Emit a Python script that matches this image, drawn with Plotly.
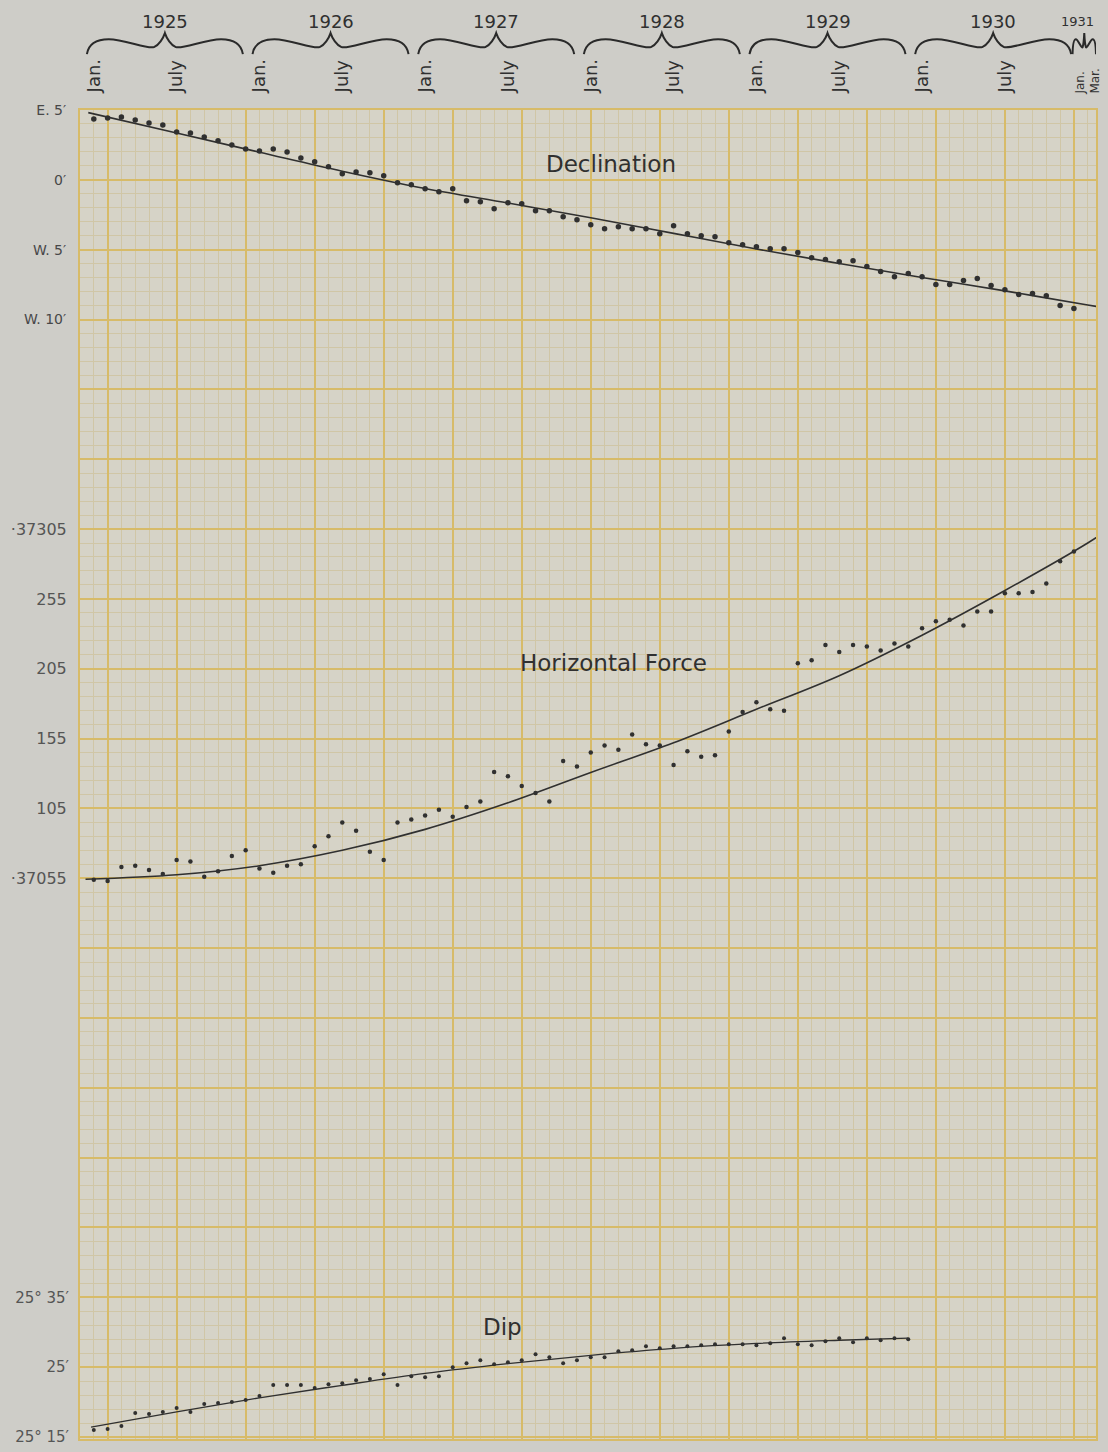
import plotly.graph_objects as go

# ---- data (month index: 0 = January 1925) ----
decl_months = list(range(72))
# declination in minutes of arc, east positive
declination = [4.36, 4.43, 4.50, 4.29, 4.07, 3.93, 3.43, 3.36, 3.07, 2.79, 2.50, 2.21,
               2.07, 2.21, 2.00, 1.57, 1.29, 0.93, 0.43, 0.57, 0.50, 0.29, -0.21, -0.36,
               -0.64, -0.86, -0.64, -1.50, -1.57, -2.07, -1.64, -1.71, -2.21, -2.21, -2.64, -2.86,
               -3.21, -3.50, -3.36, -3.50, -3.50, -3.86, -3.29, -3.86, -4.00, -4.07, -4.50, -4.64,
               -4.79, -4.93, -4.93, -5.21, -5.57, -5.71, -5.86, -5.79, -6.21, -6.57, -6.93, -6.71,
               -6.93, -7.50, -7.50, -7.21, -7.07, -7.57, -7.86, -8.21, -8.14, -8.29, -9.00, -9.21]
decl_curve_months = [-0.4, 6, 12, 18, 24, 30, 36, 42, 48, 54, 60, 66, 72, 74]
decl_curve = [4.81, 3.35, 1.98, 0.62, -0.62, -1.66, -2.71, -3.83, -4.95, -5.99, -6.99, -7.95, -8.96, -9.29]

hf_months = list(range(72))
# horizontal intensity in gammas
horizontal_force = [37054, 37053, 37063, 37064, 37061, 37058, 37068, 37067, 37056, 37060, 37071, 37075,
                    37062, 37059, 37064, 37065, 37078, 37085, 37095, 37089, 37074, 37068, 37095, 37097,
                    37100, 37104, 37099, 37106, 37110, 37131, 37128, 37121, 37116, 37110, 37139, 37135,
                    37145, 37150, 37147, 37158, 37151, 37150, 37136, 37146, 37142, 37143, 37160, 37174,
                    37181, 37176, 37175, 37209, 37211, 37222, 37217, 37222, 37221, 37218, 37223, 37221,
                    37234, 37239, 37240, 37236, 37246, 37246, 37259, 37259, 37260, 37266, 37282, 37289]
hf_curve_months = [-0.6, 6, 12, 18, 24, 30, 36, 42, 48, 54, 60, 66, 72, 74]
hf_curve = [37054.3, 37057.5, 37064, 37075, 37090, 37109, 37130.7, 37152, 37176, 37200, 37229, 37261, 37295, 37308]

dip_months = list(range(60))
# dip: minutes above 25 degrees
dip_minutes = [16.00, 16.14, 16.57, 18.43, 18.29, 18.57, 19.14, 18.57, 19.71, 19.86, 20.00, 20.29,
               20.86, 22.43, 22.43, 22.43, 22.00, 22.57, 22.71, 23.14, 23.29, 24.00, 22.43, 23.71,
               23.57, 23.71, 25.00, 25.57, 26.00, 25.43, 25.71, 26.00, 26.86, 26.43, 25.57, 26.00,
               26.43, 26.43, 27.29, 27.43, 28.00, 27.71, 28.00, 28.00, 28.14, 28.29, 28.29, 28.29,
               28.14, 28.43, 29.14, 28.29, 28.14, 28.71, 29.14, 28.57, 29.14, 28.86, 29.14, 29.00]
dip_curve_months = [-0.2, 6, 12, 18, 24, 30, 36, 42, 48, 54, 59]
dip_curve = [16.4, 18.6, 20.6, 22.4, 24.1, 25.5, 26.7, 27.7, 28.4, 28.85, 29.15]

# ---- axis labels ----
years = [1925, 1926, 1927, 1928, 1929, 1930, 1931]
months_in_year = [12, 12, 12, 12, 12, 12, 3]
month_tickvals = [0, 6, 12, 18, 24, 30, 36, 42, 48, 54, 60, 66]
month_ticktext = ["Jan.", "July"] * 6
last_tickvals = [72]
last_ticktext = ["Jan.<br>Mar."]

decl_tickvals = [5, 0, -5, -10]
decl_ticktext = ["E. 5′", "0′", "W. 5′", "W. 10′"]
hf_tickvals = [37305, 37255, 37205, 37155, 37105, 37055]
hf_ticktext = ["·37305", "255", "205", "155", "105", "·37055"]
dip_tickvals = [35, 25, 15]
dip_ticktext = ["25° 35′", "25′", "25° 15′"]

# ---- page geometry / style ----
W, H = 1108, 1452
M_L, M_R, M_T, M_B = 80, 6, 110, 10
PLOT_H = H - M_T - M_B
X_START, X_END = -1.0, 72.6
PX_PER_DEC_MIN = 14.0      # graph paper: 14 px per minute of declination
DEC_TOP = 5.0
DEC_BOTTOM = DEC_TOP - PLOT_H / PX_PER_DEC_MIN
HF_TOP = 37605.0
HF_BOTTOM = HF_TOP - PLOT_H / 70.0 * 50.0
DIP_TOP = 205.0
DIP_BOTTOM = DIP_TOP - PLOT_H / 7.0

MAJOR = "#d7bb69"
MINOR = "#d0c6a6"
INK = "#303030"
TICK_INK = "#484848"
FONT = "DejaVu Sans"

fig = go.Figure()

# invisible carriers so that the graph-paper subplot and the top month scales exist
ghost = dict(mode="markers", marker=dict(opacity=0), hoverinfo="skip", showlegend=False)
fig.add_trace(go.Scatter(x=decl_months, y=declination, xaxis="x", yaxis="y", **ghost))
fig.add_trace(go.Scatter(x=decl_months, y=declination, xaxis="x2", yaxis="y", **ghost))
fig.add_trace(go.Scatter(x=decl_months, y=declination, xaxis="x3", yaxis="y", **ghost))

curve = dict(color=INK, width=1.6, shape="spline")

fig.add_trace(go.Scatter(x=decl_curve_months, y=decl_curve, mode="lines", line=curve,
                         xaxis="x", yaxis="y2", hoverinfo="skip"))
fig.add_trace(go.Scatter(x=decl_months, y=declination, mode="markers",
                         marker=dict(color=INK, size=5.5),
                         xaxis="x", yaxis="y2", name="Declination"))
fig.add_trace(go.Scatter(x=hf_curve_months, y=hf_curve, mode="lines", line=curve,
                         xaxis="x", yaxis="y3", hoverinfo="skip"))
fig.add_trace(go.Scatter(x=hf_months, y=horizontal_force, mode="markers",
                         marker=dict(color=INK, size=4.5),
                         xaxis="x", yaxis="y3", name="Horizontal Force"))
fig.add_trace(go.Scatter(x=dip_curve_months, y=dip_curve, mode="lines",
                         line=dict(color=INK, width=1.3, shape="spline"),
                         xaxis="x", yaxis="y4", hoverinfo="skip"))
fig.add_trace(go.Scatter(x=dip_months, y=dip_minutes, mode="markers",
                         marker=dict(color=INK, size=4),
                         xaxis="x", yaxis="y4", name="Dip"))


def ypaper(px_from_top):
    return 1 + (M_T - px_from_top) / PLOT_H


# curly braces over each year of the month scale
def brace_path(a, b):
    w = b - a
    pts = [(0.0, 54), (0.01, 44), (0.06, 39), (0.14, 39),
           (0.24, 39), (0.38, 49), (0.43, 47),
           (0.46, 45), (0.49, 38), (0.50, 33),
           (0.51, 38), (0.54, 45), (0.57, 47),
           (0.62, 49), (0.76, 39), (0.86, 39),
           (0.94, 39), (0.99, 44), (1.0, 54)]
    xy = [(a + t * w, ypaper(v)) for t, v in pts]
    s = "M {:.4f},{:.5f}".format(*xy[0])
    for i in range(1, len(xy), 3):
        s += " C {:.4f},{:.5f} {:.4f},{:.5f} {:.4f},{:.5f}".format(
            xy[i][0], xy[i][1], xy[i + 1][0], xy[i + 1][1], xy[i + 2][0], xy[i + 2][1])
    return s


for yr, n in zip(years, months_in_year):
    first = 12 * (yr - 1925)
    last = first + n - 1
    b = min(last - 0.2, X_END)
    a = min(first - 0.5, b - 1.7)
    fig.add_shape(type="path", path=brace_path(a, b), xref="x", yref="paper",
                  line=dict(color="#2a2a2a", width=2))
    full = n == 12
    fig.add_annotation(x=(a + b) / 2 if full else b, y=ypaper(21), xref="x", yref="paper",
                       text=str(yr), showarrow=False, yanchor="middle",
                       xanchor="center" if full else "right",
                       font=dict(family=FONT, size=18 if full else 13, color=INK))

# series titles
fig.add_annotation(x=37.45, y=1.14, xref="x", yref="y2", text="Declination", showarrow=False,
                   font=dict(family=FONT, size=23, color=INK))
fig.add_annotation(x=37.65, y=37209, xref="x", yref="y3", text="Horizontal Force", showarrow=False,
                   font=dict(family=FONT, size=23, color=INK))
fig.add_annotation(x=29.6, y=30.7, xref="x", yref="y4", text="Dip", showarrow=False,
                   font=dict(family=FONT, size=23, color=INK))

hidden_tick = "rgba(0,0,0,0)"
fig.update_layout(
    width=W, height=H,
    margin=dict(l=M_L, r=M_R, t=M_T, b=M_B, pad=0),
    paper_bgcolor="#cecdc8",
    plot_bgcolor="#d6d3c7",
    showlegend=False,
    font=dict(family=FONT, color=TICK_INK),
    xaxis=dict(range=[X_START, X_END], tickmode="linear", tick0=1, dtick=5,
               showgrid=True, gridcolor=MAJOR, gridwidth=2,
               minor=dict(tickmode="linear", tick0=0, dtick=1, showgrid=True,
                          gridcolor=MINOR, gridwidth=1),
               showticklabels=False, ticks="", zeroline=False,
               showline=True, mirror=True, linecolor=MAJOR, linewidth=2),
    xaxis2=dict(overlaying="x", side="top", anchor="y", range=[X_START, X_END],
                tickmode="array", tickvals=month_tickvals, ticktext=month_ticktext,
                tickangle=-90, tickfont=dict(family=FONT, size=18, color=INK),
                ticks="outside", ticklen=13, tickcolor=hidden_tick,
                showgrid=False, zeroline=False, showline=False),
    xaxis3=dict(overlaying="x", side="top", anchor="y", range=[X_START, X_END],
                tickmode="array", tickvals=last_tickvals, ticktext=last_ticktext,
                tickangle=-90, tickfont=dict(family=FONT, size=12, color=INK),
                ticks="outside", ticklen=13, tickcolor=hidden_tick,
                showgrid=False, zeroline=False, showline=False),
    yaxis=dict(range=[DEC_BOTTOM, DEC_TOP], tickmode="linear", tick0=0, dtick=5,
               showgrid=True, gridcolor=MAJOR, gridwidth=2,
               minor=dict(tickmode="linear", tick0=0, dtick=1, showgrid=True,
                          gridcolor=MINOR, gridwidth=1),
               showticklabels=False, ticks="", zeroline=False,
               showline=True, mirror=True, linecolor=MAJOR, linewidth=2),
    yaxis2=dict(overlaying="y", side="left", anchor="x", range=[DEC_BOTTOM, DEC_TOP],
                tickmode="array", tickvals=decl_tickvals, ticktext=decl_ticktext,
                tickfont=dict(family=FONT, size=14, color=TICK_INK),
                ticks="outside", ticklen=10, tickcolor=hidden_tick,
                showgrid=False, zeroline=False, showline=False),
    yaxis3=dict(overlaying="y", side="left", anchor="x", range=[HF_BOTTOM, HF_TOP],
                tickmode="array", tickvals=hf_tickvals, ticktext=hf_ticktext,
                tickfont=dict(family=FONT, size=16, color="#555555"),
                ticks="outside", ticklen=9, tickcolor=hidden_tick,
                showgrid=False, zeroline=False, showline=False),
    yaxis4=dict(overlaying="y", side="left", anchor="x", range=[DIP_BOTTOM, DIP_TOP],
                tickmode="array", tickvals=dip_tickvals, ticktext=dip_ticktext,
                tickfont=dict(family=FONT, size=15, color="#555555"),
                ticks="outside", ticklen=7, tickcolor=hidden_tick,
                showgrid=False, zeroline=False, showline=False),
)

fig.write_html("out.html")
